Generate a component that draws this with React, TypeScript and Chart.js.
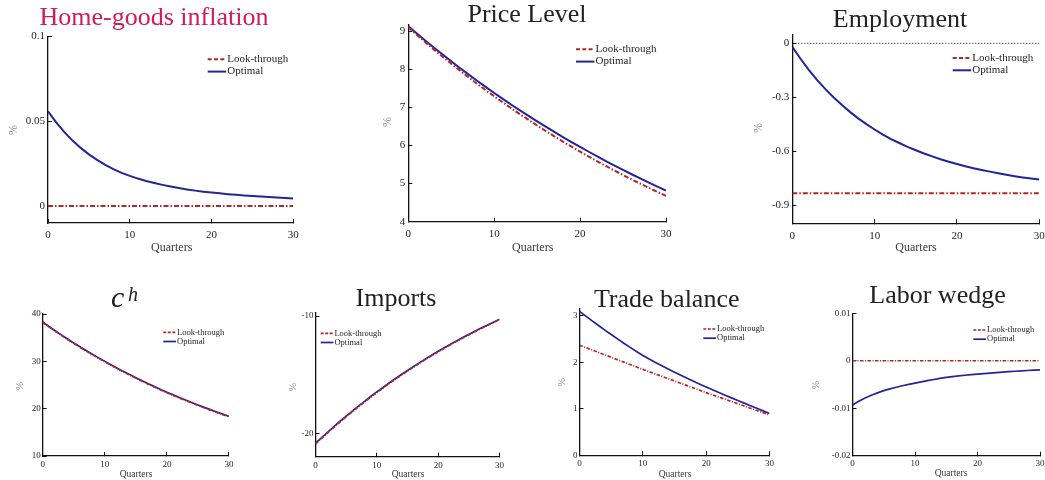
import React, { useEffect, useRef } from "react";
import { Chart, registerables } from "chart.js";

Chart.register(...registerables);

// ---------------- data ----------------
const QUARTERS = [0, 1, 2, 3, 4, 5, 6, 7, 8, 9, 10, 11, 12, 13, 14, 15, 16, 17, 18, 19, 20, 21, 22, 23, 24, 25, 26, 27, 28, 29, 30];
const X_TICKS = [0, 10, 20, 30];
const X_TICK_LABELS = ["0", "10", "20", "30"];
const SERIES_NAMES = ["Look-through", "Optimal"];

const HG_LOOK = [0, 0, 0, 0, 0, 0, 0, 0, 0, 0, 0, 0, 0, 0, 0, 0, 0, 0, 0, 0, 0, 0, 0, 0, 0, 0, 0, 0, 0, 0, 0];
const HG_OPT = [0.0559, 0.0493, 0.0436, 0.0386, 0.0343, 0.0305, 0.0272, 0.0243, 0.0218, 0.0196, 0.0178, 0.0162, 0.0148, 0.0136, 0.0125, 0.0115, 0.0106, 0.0098, 0.0091, 0.0085, 0.008, 0.0075, 0.007, 0.0066, 0.0062, 0.0059, 0.0056, 0.0053, 0.005, 0.0047, 0.0044];
const HG_YTICKS = [0, 0.05, 0.1];
const HG_YLABELS = ["0", "0.05", "0.1"];

const PL_LOOK = [9.1, 8.9, 8.705, 8.514, 8.327, 8.144, 7.965, 7.791, 7.62, 7.452, 7.289, 7.129, 6.972, 6.819, 6.67, 6.523, 6.38, 6.24, 6.103, 5.969, 5.838, 5.71, 5.585, 5.462, 5.342, 5.225, 5.11, 4.998, 4.888, 4.781, 4.676];
const PL_OPT = [9.13, 8.937, 8.749, 8.564, 8.384, 8.207, 8.034, 7.864, 7.699, 7.536, 7.377, 7.222, 7.069, 6.92, 6.774, 6.631, 6.492, 6.355, 6.221, 6.09, 5.961, 5.835, 5.712, 5.592, 5.474, 5.358, 5.245, 5.135, 5.026, 4.92, 4.817];
const PL_YTICKS = [4, 5, 6, 7, 8, 9];
const PL_YLABELS = ["4", "5", "6", "7", "8", "9"];

const EMP_LOOK = [-0.833, -0.833, -0.833, -0.833, -0.833, -0.833, -0.833, -0.833, -0.833, -0.833, -0.833, -0.833, -0.833, -0.833, -0.833, -0.833, -0.833, -0.833, -0.833, -0.833, -0.833, -0.833, -0.833, -0.833, -0.833, -0.833, -0.833, -0.833, -0.833, -0.833, -0.833];
const EMP_OPT = [-0.02, -0.086, -0.147, -0.203, -0.253, -0.3, -0.342, -0.381, -0.417, -0.449, -0.479, -0.507, -0.532, -0.554, -0.575, -0.594, -0.612, -0.628, -0.644, -0.658, -0.671, -0.683, -0.694, -0.704, -0.713, -0.722, -0.73, -0.738, -0.745, -0.751, -0.757];
const EMP_ZERO = [0, 0, 0, 0, 0, 0, 0, 0, 0, 0, 0, 0, 0, 0, 0, 0, 0, 0, 0, 0, 0, 0, 0, 0, 0, 0, 0, 0, 0, 0, 0];
const EMP_YTICKS = [-0.9, -0.6, -0.3, 0];
const EMP_YLABELS = ["-0.9", "-0.6", "-0.3", "0"];

const CH_LOOK = [38.2, 37.27, 36.37, 35.49, 34.63, 33.79, 32.97, 32.17, 31.39, 30.63, 29.89, 29.17, 28.46, 27.77, 27.1, 26.44, 25.8, 25.17, 24.56, 23.97, 23.38, 22.82, 22.26, 21.72, 21.2, 20.68, 20.18, 19.69, 19.21, 18.74, 18.29];
const CH_OPT = [38.3, 37.37, 36.47, 35.59, 34.73, 33.89, 33.07, 32.27, 31.49, 30.73, 29.99, 29.27, 28.56, 27.87, 27.2, 26.54, 25.9, 25.27, 24.66, 24.07, 23.48, 22.92, 22.36, 21.82, 21.3, 20.78, 20.28, 19.79, 19.31, 18.84, 18.39];
const CH_YTICKS = [10, 20, 30, 40];
const CH_YLABELS = ["10", "20", "30", "40"];

const IMP_LOOK = [-20.91, -20.42, -19.95, -19.49, -19.03, -18.59, -18.16, -17.74, -17.33, -16.92, -16.53, -16.14, -15.76, -15.4, -15.04, -14.69, -14.35, -14.01, -13.68, -13.36, -13.05, -12.75, -12.45, -12.16, -11.88, -11.6, -11.33, -11.06, -10.81, -10.56, -10.31];
const IMP_OPT = [-20.85, -20.36, -19.89, -19.43, -18.97, -18.53, -18.1, -17.68, -17.27, -16.86, -16.47, -16.09, -15.71, -15.35, -14.99, -14.64, -14.3, -13.97, -13.64, -13.32, -13.01, -12.71, -12.41, -12.12, -11.84, -11.57, -11.3, -11.03, -10.78, -10.53, -10.28];
const IMP_YTICKS = [-20, -10];
const IMP_YLABELS = ["-20", "-10"];

const TB_LOOK = [2.37, 2.318, 2.266, 2.214, 2.162, 2.11, 2.058, 2.006, 1.954, 1.902, 1.85, 1.8, 1.75, 1.7, 1.65, 1.6, 1.55, 1.5, 1.45, 1.4, 1.35, 1.302, 1.254, 1.206, 1.158, 1.11, 1.062, 1.014, 0.966, 0.918, 0.87];
const TB_OPT = [3.1, 2.996, 2.894, 2.794, 2.696, 2.6, 2.506, 2.414, 2.324, 2.236, 2.15, 2.072, 1.998, 1.927, 1.858, 1.79, 1.724, 1.659, 1.595, 1.532, 1.47, 1.41, 1.351, 1.293, 1.236, 1.18, 1.124, 1.068, 1.012, 0.956, 0.9];
const TB_YTICKS = [0, 1, 2, 3];
const TB_YLABELS = ["0", "1", "2", "3"];

const LW_LOOK = [0, 0, 0, 0, 0, 0, 0, 0, 0, 0, 0, 0, 0, 0, 0, 0, 0, 0, 0, 0, 0, 0, 0, 0, 0, 0, 0, 0, 0, 0, 0];
const LW_OPT = [-0.0093, -0.00852, -0.00785, -0.00727, -0.00676, -0.0063, -0.00592, -0.00558, -0.00527, -0.00498, -0.0047, -0.00443, -0.00418, -0.00394, -0.00371, -0.0035, -0.00334, -0.00319, -0.00305, -0.00292, -0.0028, -0.00269, -0.00259, -0.00249, -0.00239, -0.0023, -0.00221, -0.00213, -0.00205, -0.00197, -0.0019];
const LW_YTICKS = [-0.02, -0.01, 0, 0.01];
const LW_YLABELS = ["-0.02", "-0.01", "0", "0.01"];

// ---------------- styling / layout ----------------
const W = 1045;
const H = 480;
const FONT = "'Liberation Serif', 'Times New Roman', serif";
const RED = "#b02828";
const BLUE = "#24249a";
const TITLE_RED = "#d01c58";
const YW = 40;
const XH = 30;

type Series = { data: number[]; color: string; width: number; dash: number[]; legendDash: number[] };
type Panel = {
  plot: [number, number, number, number];
  yMin: number;
  yMax: number;
  yTicks: number[];
  yLabels: string[];
  series: Series[];
  zero?: number[];
  title: { text: string; x: number; y: number; size: number; color: string; sup?: string; supX?: number; supY?: number; supSize?: number };
  ylabel: { x: number; y: number; size: number };
  xlabel: { x: number; y: number; size: number };
  legend: { x: number; y: number; rowH: number; lineLen: number; size: number };
  tickSize: number;
  xPad: number;
  yPad: number;
};

const TOP_DASH = [5, 2, 1.5, 2];
const TOP_LDASH = [4, 2.3];
const BOT_DASH = [3.5, 1.5, 1, 1.5];
const BOT_LDASH = [3, 1.5];

function pair(look: number[], opt: number[], top: boolean): Series[] {
  const w = top ? 2 : 1.7;
  return [
    { data: look, color: RED, width: w, dash: top ? TOP_DASH : BOT_DASH, legendDash: top ? TOP_LDASH : BOT_LDASH },
    { data: opt, color: BLUE, width: w, dash: [], legendDash: [] },
  ];
}

const TOPLEG = { rowH: 12.3, lineLen: 18.5, size: 11 };
const BOTLEG = { rowH: 9.2, lineLen: 12.7, size: 8.5 };

const PANELS: Panel[] = [
  {
    plot: [48, 36.5, 293.3, 223],
    yMin: -0.01, yMax: 0.1, yTicks: HG_YTICKS, yLabels: HG_YLABELS,
    series: pair(HG_LOOK, HG_OPT, true),
    title: { text: "Home-goods inflation", x: 154, y: 25, size: 26, color: TITLE_RED },
    ylabel: { x: 14, y: 130, size: 12 },
    xlabel: { x: 171.7, y: 248, size: 12 },
    legend: { x: 207.7, y: 59.3, ...TOPLEG },
    tickSize: 11, xPad: 10, yPad: 7,
  },
  {
    plot: [408.3, 25, 666, 221.7],
    yMin: 4, yMax: 9.16, yTicks: PL_YTICKS, yLabels: PL_YLABELS,
    series: pair(PL_LOOK, PL_OPT, true),
    title: { text: "Price Level", x: 527, y: 22, size: 26, color: "#222" },
    ylabel: { x: 388, y: 122, size: 12 },
    xlabel: { x: 532.7, y: 248, size: 12 },
    legend: { x: 576, y: 49.3, ...TOPLEG },
    tickSize: 11, xPad: 10, yPad: 7,
  },
  {
    plot: [792.3, 34.3, 1039.3, 223.3],
    yMin: -1, yMax: 0.05, yTicks: EMP_YTICKS, yLabels: EMP_YLABELS,
    series: pair(EMP_LOOK, EMP_OPT, true),
    zero: EMP_ZERO,
    title: { text: "Employment", x: 900, y: 27, size: 26, color: "#222" },
    ylabel: { x: 759, y: 128, size: 12 },
    xlabel: { x: 916, y: 248, size: 12 },
    legend: { x: 952.7, y: 58, ...TOPLEG },
    tickSize: 11, xPad: 10, yPad: 7,
  },
  {
    plot: [42.7, 314, 229, 456],
    yMin: 10, yMax: 40, yTicks: CH_YTICKS, yLabels: CH_YLABELS,
    series: pair(CH_LOOK, CH_OPT, false),
    title: { text: "c", sup: "h", x: 111, y: 307, size: 30, supX: 128, supY: 300.5, supSize: 20, color: "#222" },
    ylabel: { x: 20, y: 386, size: 10 },
    xlabel: { x: 136, y: 474, size: 9.5 },
    legend: { x: 163.3, y: 332.3, ...BOTLEG },
    tickSize: 9, xPad: 7, yPad: 6,
  },
  {
    plot: [315.5, 313.1, 499.5, 456.8],
    yMin: -22, yMax: -9.75, yTicks: IMP_YTICKS, yLabels: IMP_YLABELS,
    series: pair(IMP_LOOK, IMP_OPT, false),
    title: { text: "Imports", x: 396, y: 306, size: 26, color: "#222" },
    ylabel: { x: 293, y: 387, size: 10 },
    xlabel: { x: 408, y: 474, size: 9.5 },
    legend: { x: 320.7, y: 333.3, ...BOTLEG },
    tickSize: 9, xPad: 7, yPad: 6,
  },
  {
    plot: [579.5, 309, 769.5, 455.3],
    yMin: 0, yMax: 3.15, yTicks: TB_YTICKS, yLabels: TB_YLABELS,
    series: pair(TB_LOOK, TB_OPT, false),
    title: { text: "Trade balance", x: 666.7, y: 306.5, size: 26, color: "#222" },
    ylabel: { x: 562.5, y: 382, size: 10 },
    xlabel: { x: 675, y: 474, size: 9.5 },
    legend: { x: 703.3, y: 329, ...BOTLEG },
    tickSize: 9, xPad: 7, yPad: 6,
  },
  {
    plot: [852.5, 313.3, 1040, 455.7],
    yMin: -0.02, yMax: 0.01, yTicks: LW_YTICKS, yLabels: LW_YLABELS,
    series: pair(LW_LOOK, LW_OPT, false),
    title: { text: "Labor wedge", x: 937.5, y: 302.5, size: 26, color: "#222" },
    ylabel: { x: 816, y: 385, size: 10 },
    xlabel: { x: 951, y: 473.5, size: 9.5 },
    legend: { x: 973.3, y: 330, ...BOTLEG },
    tickSize: 9, xPad: 7, yPad: 6,
  },
];

function makeDecor(p: Panel) {
  return {
    id: "decor",
    afterDraw(chart: any) {
      const ctx: CanvasRenderingContext2D = chart.ctx;
      ctx.save();
      // title
      ctx.fillStyle = p.title.color;
      ctx.textBaseline = "alphabetic";
      if (p.title.sup) {
        ctx.textAlign = "left";
        ctx.font = `italic ${p.title.size}px ${FONT}`;
        ctx.fillText(p.title.text, p.title.x, p.title.y);
        ctx.font = `italic ${p.title.supSize}px ${FONT}`;
        ctx.fillText(p.title.sup, p.title.supX as number, p.title.supY as number);
      } else {
        ctx.textAlign = "center";
        ctx.font = `${p.title.size}px ${FONT}`;
        ctx.fillText(p.title.text, p.title.x, p.title.y);
      }
      // y label
      ctx.save();
      ctx.translate(p.ylabel.x, p.ylabel.y);
      ctx.rotate(-Math.PI / 2);
      ctx.textAlign = "center";
      ctx.textBaseline = "middle";
      ctx.font = `${p.ylabel.size}px ${FONT}`;
      ctx.fillStyle = "#8a8a8a";
      ctx.fillText("%", 0, 0);
      ctx.restore();
      // x label
      ctx.textAlign = "center";
      ctx.textBaseline = "middle";
      ctx.font = `${p.xlabel.size}px ${FONT}`;
      ctx.fillStyle = "#3a3a3a";
      ctx.fillText("Quarters", p.xlabel.x, p.xlabel.y);
      // legend
      p.series.forEach((s, i) => {
        const y = p.legend.y + i * p.legend.rowH;
        ctx.beginPath();
        ctx.setLineDash(s.legendDash);
        ctx.strokeStyle = s.color;
        ctx.lineWidth = s.width;
        ctx.moveTo(p.legend.x, y);
        ctx.lineTo(p.legend.x + p.legend.lineLen, y);
        ctx.stroke();
        ctx.setLineDash([]);
        ctx.fillStyle = "#1e1e1e";
        ctx.font = `${p.legend.size}px ${FONT}`;
        ctx.textAlign = "left";
        ctx.textBaseline = "middle";
        ctx.fillText(SERIES_NAMES[i], p.legend.x + p.legend.lineLen + 1, y);
      });
      ctx.restore();
    },
  };
}

function buildConfig(p: Panel): any {
  const [L, T, R, B] = p.plot;
  const datasets: any[] = p.series.map((s, i) => ({
    label: SERIES_NAMES[i],
    data: QUARTERS.map((q, k) => ({ x: q, y: s.data[k] })),
    borderColor: s.color,
    borderWidth: s.width,
    borderDash: s.dash,
    pointRadius: 0,
    fill: false,
    tension: 0,
  }));
  if (p.zero) {
    datasets.push({
      label: "zero",
      data: QUARTERS.map((q, k) => ({ x: q, y: p.zero![k] })),
      borderColor: "#000",
      borderWidth: 1,
      borderDash: [1, 2],
      pointRadius: 0,
      fill: false,
    });
  }
  const tickFont = { family: FONT, size: p.tickSize };
  return {
    type: "line",
    data: { datasets },
    plugins: [makeDecor(p)],
    options: {
      animation: false,
      responsive: false,
      devicePixelRatio: 1,
      events: [],
      layout: { padding: { left: L - YW, top: T, right: W - R, bottom: H - B - XH } },
      plugins: { legend: { display: false }, title: { display: false }, tooltip: { enabled: false } },
      scales: {
        x: {
          type: "linear",
          min: 0,
          max: 30,
          afterBuildTicks: (s: any) => {
            s.ticks = X_TICKS.map((v) => ({ value: v }));
          },
          afterFit: (s: any) => {
            s.height = XH;
            s.paddingLeft = 0;
            s.paddingRight = 0;
            s.paddingTop = 0;
            s.paddingBottom = 0;
          },
          ticks: {
            font: tickFont,
            color: "#262626",
            padding: p.xPad,
            maxRotation: 0,
            autoSkip: false,
            callback: (_v: any, i: number) => X_TICK_LABELS[i],
          },
          grid: { display: true, drawOnChartArea: false, drawTicks: true, tickLength: -4, color: "#111", lineWidth: 1 },
          border: { display: true, color: "#111", width: 1.3 },
        },
        y: {
          type: "linear",
          position: "left",
          min: p.yMin,
          max: p.yMax,
          afterBuildTicks: (s: any) => {
            s.ticks = p.yTicks.map((v) => ({ value: v }));
          },
          afterFit: (s: any) => {
            s.width = YW;
            s.paddingLeft = 0;
            s.paddingRight = 0;
            s.paddingTop = 0;
            s.paddingBottom = 0;
          },
          ticks: {
            font: tickFont,
            color: "#262626",
            padding: p.yPad,
            autoSkip: false,
            callback: (_v: any, i: number) => p.yLabels[i],
          },
          grid: { display: true, drawOnChartArea: false, drawTicks: true, tickLength: -4, color: "#111", lineWidth: 1 },
          border: { display: true, color: "#111", width: 1.3 },
        },
      },
    },
  };
}

function PanelChart({ p }: { p: Panel }) {
  const ref = useRef<HTMLCanvasElement>(null);
  useEffect(() => {
    if (!ref.current) return;
    const chart = new Chart(ref.current, buildConfig(p));
    return () => chart.destroy();
  }, [p]);
  return (
    <canvas
      ref={ref}
      width={W}
      height={H}
      style={{ position: "absolute", left: 0, top: 0, width: W, height: H }}
    />
  );
}

export default function App() {
  return (
    <div style={{ position: "absolute", left: 0, top: 0, width: W, height: H, background: "#fff" }}>
      {PANELS.map((p, i) => (
        <PanelChart key={i} p={p} />
      ))}
    </div>
  );
}
